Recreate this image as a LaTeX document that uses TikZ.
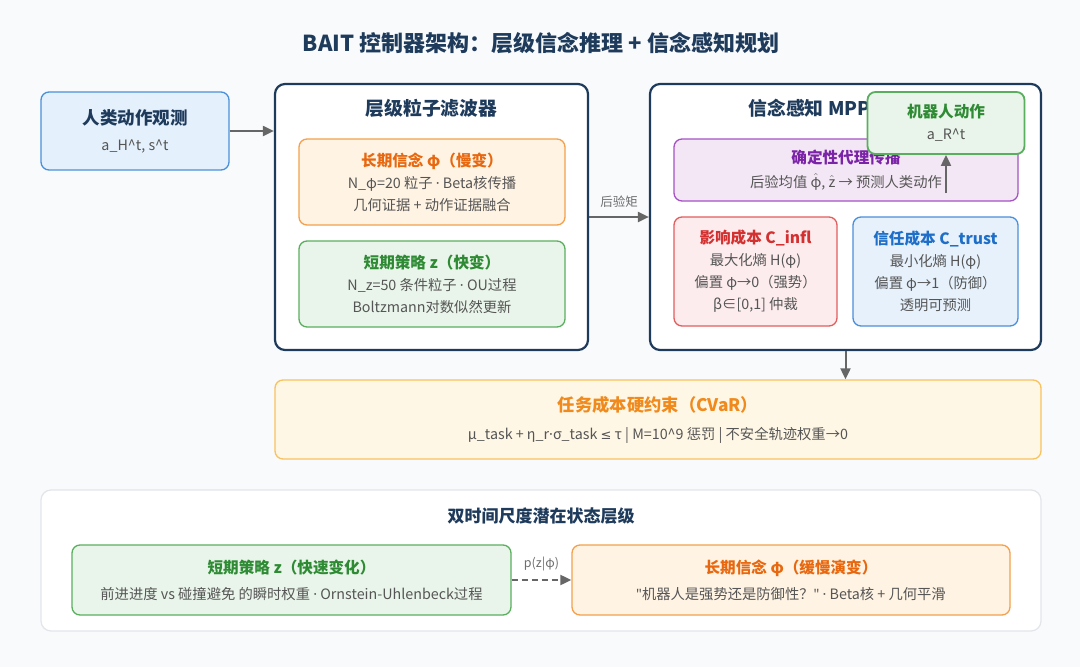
\documentclass[tikz,border=0pt]{standalone}
\usepackage{fontspec}
\setmainfont{Noto Sans CJK SC}
\newfontfamily\symfont{Noto Sans}
\newfontfamily\relfont{DejaVu Sans}
\usetikzlibrary{arrows.meta}

\definecolor{navy}{HTML}{1F3B5C}
\definecolor{bodygray}{HTML}{555555}
\definecolor{arrowgray}{HTML}{666666}
\definecolor{pagebg}{HTML}{F8FAFC}
\definecolor{obsline}{HTML}{4A90D9}
\definecolor{obsfill}{HTML}{E4F0FC}
\definecolor{orgline}{HTML}{F4A04C}
\definecolor{orgfill}{HTML}{FFF3E3}
\definecolor{orgtext}{HTML}{E8680F}
\definecolor{grnline}{HTML}{5AAF5E}
\definecolor{grnfill}{HTML}{E9F5EA}
\definecolor{grntext}{HTML}{2E8B34}
\definecolor{purline}{HTML}{A552C4}
\definecolor{purfill}{HTML}{F3E6F5}
\definecolor{purtext}{HTML}{7B24A8}
\definecolor{redline}{HTML}{E35D5D}
\definecolor{redfill}{HTML}{FDECEE}
\definecolor{redtext}{HTML}{D33030}
\definecolor{bluline}{HTML}{4A8FD9}
\definecolor{blufill}{HTML}{E6F1FC}
\definecolor{blutext}{HTML}{1F6FC8}
\definecolor{cvarline}{HTML}{F8C25D}
\definecolor{cvarfill}{HTML}{FFF7E6}
\definecolor{cvartext}{HTML}{F08A1C}
\definecolor{panelline}{HTML}{E2E5EA}

\newcommand{\boxhead}[2]{{\fontsize{15.6}{22}\selectfont\bfseries\color{#1}#2}}
\newcommand{\md}{{\symfont ·}}
\newcommand{\qt}{{\symfont "}}

\begin{document}
\begin{tikzpicture}[x=1pt,y=-1pt,
    card/.style={draw, rounded corners=8pt, line width=1.3pt, align=center, inner sep=0pt,
      text=bodygray, font=\fontsize{14.3}{22}\selectfont},
    frame/.style={draw=navy, fill=white, rounded corners=10pt, line width=2.2pt, inner sep=0pt},
    head/.style={font=\fontsize{18.8}{20}\selectfont\bfseries, text=navy},
    flow/.style={draw=arrowgray, line width=2pt, -{Triangle[length=11pt,width=10pt]}},
    tag/.style={font=\fontsize{12.5}{14}\selectfont, text=bodygray!85}]
  \fill[pagebg] (0,0) rectangle (1080,667);
  \useasboundingbox (0,0) rectangle (1080,667);

  \node[head, font=\fontsize{22}{24}\selectfont\bfseries] (title) at (541,43) {BAIT 控制器架构：层级信念推理 + 信念感知规划};

  % input
  \node[card, draw=obsline, fill=obsfill, minimum width=188pt, minimum height=78pt] (obs) at (135,131)
    {{\fontsize{17.5}{22}\selectfont\bfseries\color{navy}人类动作观测}\\[4pt] a\_H\textasciicircum t, s\textasciicircum t};

  % hierarchical particle filter
  \node[frame, minimum width=313pt, minimum height=266pt] (pf) at (431.5,217) {};
  \node[head] (pftitle) at (431.5,108) {层级粒子滤波器};
  \node[card, draw=orgline, fill=orgfill, minimum width=266pt, minimum height=86pt] (slowpf) at (432,182)
    {\boxhead{orgtext}{长期信念 φ（慢变）}\\ N\_φ=20 粒子 \md{} Beta核传播\\ 几何证据 + 动作证据融合};
  \node[card, draw=grnline, fill=grnfill, minimum width=266pt, minimum height=86pt] (fastpf) at (432,284)
    {\boxhead{grntext}{短期策略 z（快变）}\\ N\_z=50 条件粒子 \md{} OU过程\\ Boltzmann对数似然更新};

  % belief-aware MPPI
  \node[frame, minimum width=391pt, minimum height=266pt] (mppi) at (845.5,217) {};
  \node[head, anchor=west] (mppititle) at (745,108) {信念感知 MPPI};
  \node[card, draw=purline, fill=purfill, minimum width=344pt, minimum height=62pt] (prop) at (846,170)
    {\boxhead{purtext}{确定性代理传播}\\[2pt] 后验均值 $\hat{\mbox{φ}}$, $\hat{\mbox{z}}$ → 预测人类动作};
  \node[card, draw=redline, fill=redfill, minimum width=163pt, minimum height=109pt] (infl) at (755.5,271.5)
    {\boxhead{redtext}{影响成本 C\_infl}\\ 最大化熵 H(φ)\\ 偏置 φ→0（强势）\\ β∈[0,1] 仲裁};
  \node[card, draw=bluline, fill=blufill, minimum width=165pt, minimum height=109pt] (trust) at (935.5,271.5)
    {\boxhead{blutext}{信任成本 C\_trust}\\ 最小化熵 H(φ)\\ 偏置 φ→1（防御）\\ 透明可预测};
  \node[card, draw=grnline, fill=grnfill, line width=1.8pt, minimum width=157pt, minimum height=62pt] (robot) at (946,123)
    {\boxhead{grntext}{机器人动作}\\ a\_R\textasciicircum t};
  \coordinate (propout) at (946,193);

  % constraint
  \node[card, draw=cvarline, fill=cvarfill, minimum width=766pt, minimum height=79pt] (cvar) at (658,419.5)
    {{\fontsize{17.3}{22}\selectfont\bfseries\color{cvartext}任务成本硬约束（CVaR）}\\[6pt] μ\_task + η\_r\md σ\_task {\relfont\fontsize{13}{22}\selectfont ≤} τ | M=10\textasciicircum 9 惩罚 | 不安全轨迹权重→0};

  % arrows
  \draw[flow] (obs.east) -- (obs.east -| pf.west);
  \draw[flow] (pf.east) -- node[tag, above=5pt] (post) {后验矩} (mppi.west);
  \draw[flow] (propout) -- (robot.south);
  \draw[flow] (mppi.south) -- (mppi.south |- cvar.north);

  % two time scales
  \node[draw=panelline, fill=white, rounded corners=10pt, line width=1.2pt, minimum width=1000pt, minimum height=141pt] (layers) at (541,560.5) {};
  \node[head, font=\fontsize{17}{20}\selectfont\bfseries] (layerstitle) at (541,516) {双时间尺度潜在状态层级};
  \node[card, draw=grnline, fill=grnfill, minimum width=439pt, minimum height=70pt] (fast) at (291.5,580)
    {\boxhead{grntext}{短期策略 z（快速变化）}\\[4pt] 前进进度 vs 碰撞避免 的瞬时权重 \md{} Ornstein-Uhlenbeck过程};
  \node[card, draw=orgline, fill=orgfill, minimum width=438pt, minimum height=70pt] (slow) at (791,580)
    {\boxhead{orgtext}{长期信念 φ（缓慢演变）}\\[4pt] \qt 机器人是强势还是防御性？\qt{} \md{} Beta核 + 几何平滑};
  \draw[flow, dashed, dash pattern=on 6pt off 4pt] (fast.east) -- node[tag, above=5pt] (cond) {p(z|φ)} (slow.west);
\end{tikzpicture}
\end{document}
